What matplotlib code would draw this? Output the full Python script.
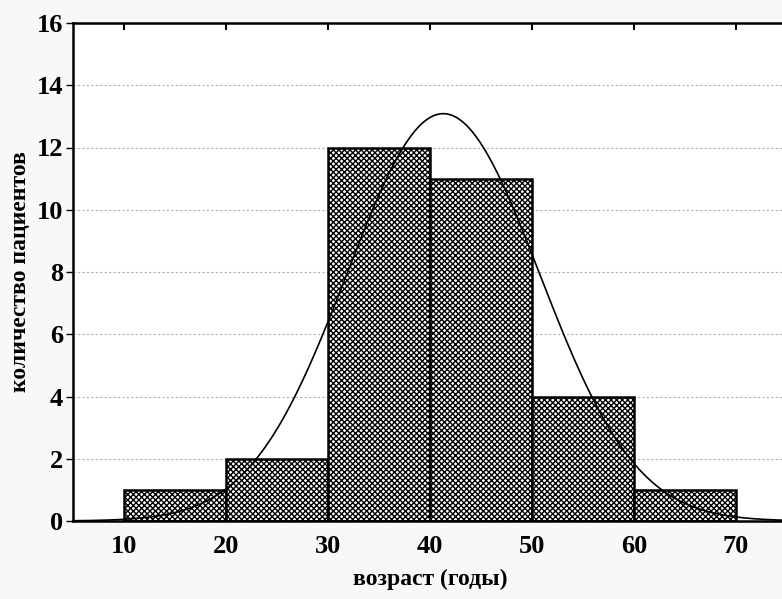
import numpy as np
import matplotlib
matplotlib.use('Agg')
import matplotlib.pyplot as plt

# histogram of patients by age
bin_edges = [10, 20, 30, 40, 50, 60, 70]
counts = [1, 2, 12, 11, 4, 1]

# fitted normal curve parameters
fit_mean = 41.3
fit_sd = 9.45
n_total = sum(counts)
bin_width = 10

plt.rcParams['font.family'] = ['Liberation Serif', 'DejaVu Serif']
plt.rcParams['font.weight'] = 'bold'
plt.rcParams['hatch.linewidth'] = 1.0

fig = plt.figure(figsize=(7.82, 5.99), dpi=100, facecolor='#f8f8f8')
ax = fig.add_axes([73/782, 78/599, (787-73)/782, (521-23)/599])
ax.set_facecolor('white')

lefts = bin_edges[:-1]
ax.bar(lefts, counts, width=bin_width, align='edge', color='white',
       edgecolor='black', linewidth=1.8, hatch='x' * 6, zorder=2)

xs = np.linspace(0, 80, 400)
ys = n_total * bin_width / (fit_sd * np.sqrt(2 * np.pi)) * np.exp(-(xs - fit_mean)**2 / (2 * fit_sd**2))
ax.plot(xs, ys, color='black', linewidth=1.2, zorder=3)

ax.set_xlim(5, 75)
ax.set_ylim(0, 16)
ax.set_xticks([10, 20, 30, 40, 50, 60, 70])
ax.set_yticks(range(0, 17, 2))
ax.yaxis.grid(True, linestyle=(0, (2, 2)), color='#b0b0b0', linewidth=0.8, zorder=0)
ax.set_axisbelow(True)

for s in ax.spines.values():
    s.set_linewidth(1.8)

ax.tick_params(axis='x', which='both', direction='in', top=True, bottom=False,
               length=5, width=1.5, labelsize=19, pad=10)
ax.tick_params(axis='y', direction='out', length=5, width=1, labelsize=19, pad=2)

ax.set_xlabel('возраст (годы)', fontsize=17, fontweight='bold', labelpad=8)
ax.set_ylabel('количество пациентов', fontsize=17, fontweight='bold', labelpad=4)

fig.savefig('out.png', dpi=100, facecolor=fig.get_facecolor())
